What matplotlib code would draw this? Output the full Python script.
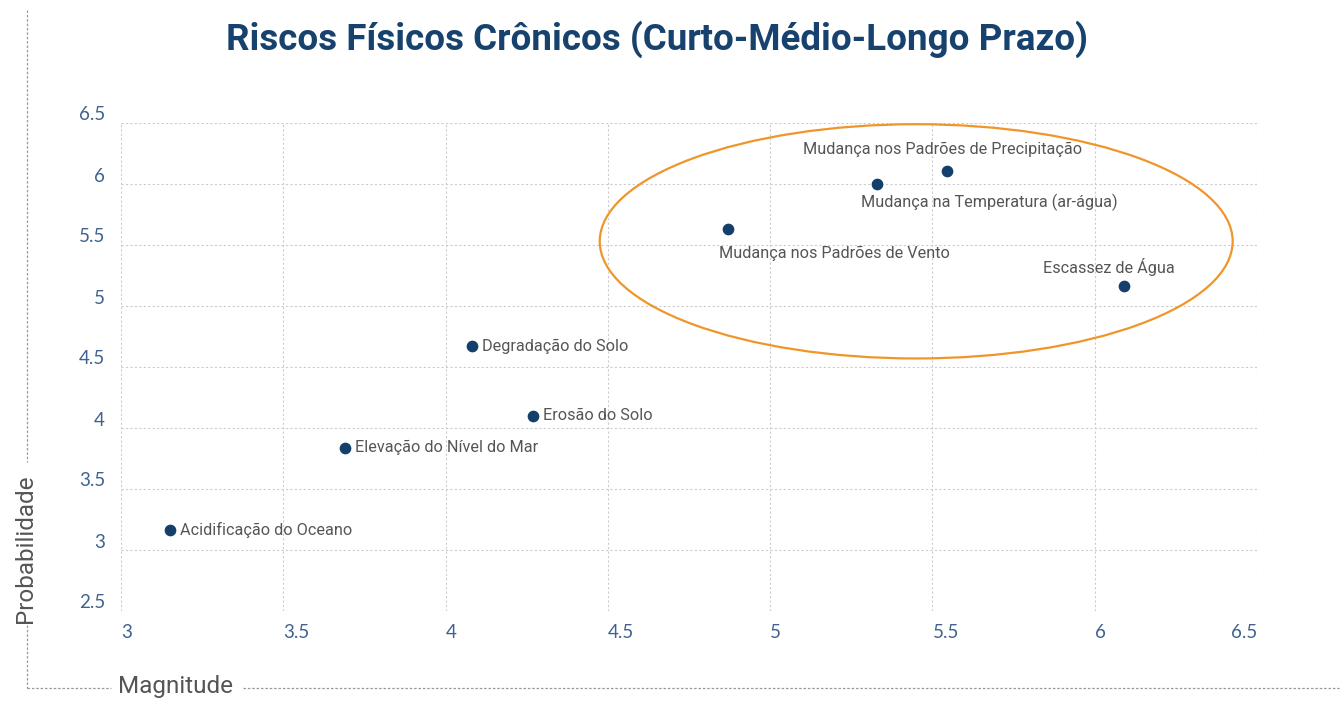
import matplotlib
matplotlib.use("Agg")
import matplotlib.pyplot as plt
from matplotlib.patches import Ellipse
from matplotlib.lines import Line2D

# ---- data ----
risks = [
    "Acidificação do Oceano",
    "Elevação do Nível do Mar",
    "Degradação do Solo",
    "Erosão do Solo",
    "Mudança nos Padrões de Vento",
    "Mudança na Temperatura (ar-água)",
    "Mudança nos Padrões de Precipitação",
    "Escassez de Água",
]
magnitude = [3.15, 3.69, 4.08, 4.27, 4.87, 5.33, 5.545, 6.09]
probabilidade = [3.16, 3.84, 4.67, 4.10, 5.63, 6.00, 6.11, 5.16]

# label placement (pixel offset from point, alignment)
label_pos = [
    ((10, 0), "left", "center"),
    ((10, 0), "left", "center"),
    ((10, 0), "left", "center"),
    ((10, 0), "left", "center"),
    ((-9, -24), "left", "center"),
    ((-16, -18), "left", "center"),
    ((-4, 21), "center", "center"),
    ((-15, 19), "center", "center"),
]

x_ticks = [3, 3.5, 4, 4.5, 5, 5.5, 6, 6.5]
y_ticks = [2.5, 3, 3.5, 4, 4.5, 5, 5.5, 6, 6.5]

# ---- style ----
NAVY = "#143f6b"
TITLE_C = "#17426e"
TICK_C = "#3f6290"
TEXT_C = "#555555"
GRID_C = "#cccccc"
ORANGE = "#f0952a"

W, H = 1340, 701
fig = plt.figure(figsize=(W / 100, H / 100), dpi=100)
ax = fig.add_axes([121 / W, 1 - 611 / H, (1257 - 121) / W, (611 - 123) / H])

ax.set_xlim(3, 6.5)
ax.set_ylim(2.5, 6.5)
for s in ax.spines.values():
    s.set_visible(False)
ax.set_xticks(x_ticks)
ax.set_yticks(y_ticks)
ax.tick_params(length=0, labelbottom=False, labelleft=False)
ax.grid(True, color=GRID_C, linestyle=(0, (2, 2)), linewidth=0.8)
ax.set_axisbelow(True)

# tick labels placed manually to mimic alignment
for i, xv in enumerate(x_ticks):
    ha = "right" if i == len(x_ticks) - 1 else "left"
    ax.annotate(f"{xv:g}", (xv, 2.5), xytext=(0, -22), textcoords="offset pixels",
                ha=ha, va="center", fontsize=13.5, color=TICK_C,
                family="Lato", annotation_clip=False)
for yv in y_ticks:
    ax.annotate(f"{yv:g}", (3, yv), xytext=(-16, 8), textcoords="offset pixels",
                ha="right", va="center", fontsize=13.5, color=TICK_C,
                family="Lato", annotation_clip=False)

# highlight ellipse
ax.add_patch(Ellipse((5.45, 5.53), 1.95, 1.92, fill=False,
                     edgecolor=ORANGE, linewidth=1.6, zorder=2))

ax.scatter(magnitude, probabilidade, s=55, color=NAVY, zorder=3)

for name, xv, yv, (off, ha, va) in zip(risks, magnitude, probabilidade, label_pos):
    ax.annotate(name, (xv, yv), xytext=off, textcoords="offset pixels",
                ha=ha, va=va, fontsize=11.7, color=TEXT_C, family="Roboto")

# title
fig.text(657 / W, 1 - 39 / H, "Riscos Físicos Crônicos (Curto-Médio-Longo Prazo)",
         ha="center", va="center", fontsize=26.5, fontweight="bold",
         color=TITLE_C, family="Roboto")

# outer axis frame lines with gaps for labels
line_kw = dict(color="#999999", linewidth=0.9, linestyle=(0, (2, 1.5)))
fig.add_artist(Line2D([27 / W, 27 / W], [1 - 10 / H, 1 - 462 / H], **line_kw))
fig.add_artist(Line2D([27 / W, 27 / W], [1 - 625 / H, 1 - 688 / H], **line_kw))
fig.add_artist(Line2D([27 / W, 111 / W], [1 - 688 / H, 1 - 688 / H], **line_kw))
fig.add_artist(Line2D([243 / W, 1.0], [1 - 688 / H, 1 - 688 / H], **line_kw))

fig.text(176 / W, 1 - 686 / H, "Magnitude", ha="center", va="center",
         fontsize=17.5, color=TEXT_C, family="Roboto")
fig.text(26 / W, 1 - 549 / H, "Probabilidade", ha="center", va="center",
         rotation=90, fontsize=17.5, color=TEXT_C, family="Roboto")

fig.savefig("out.png", dpi=100)
